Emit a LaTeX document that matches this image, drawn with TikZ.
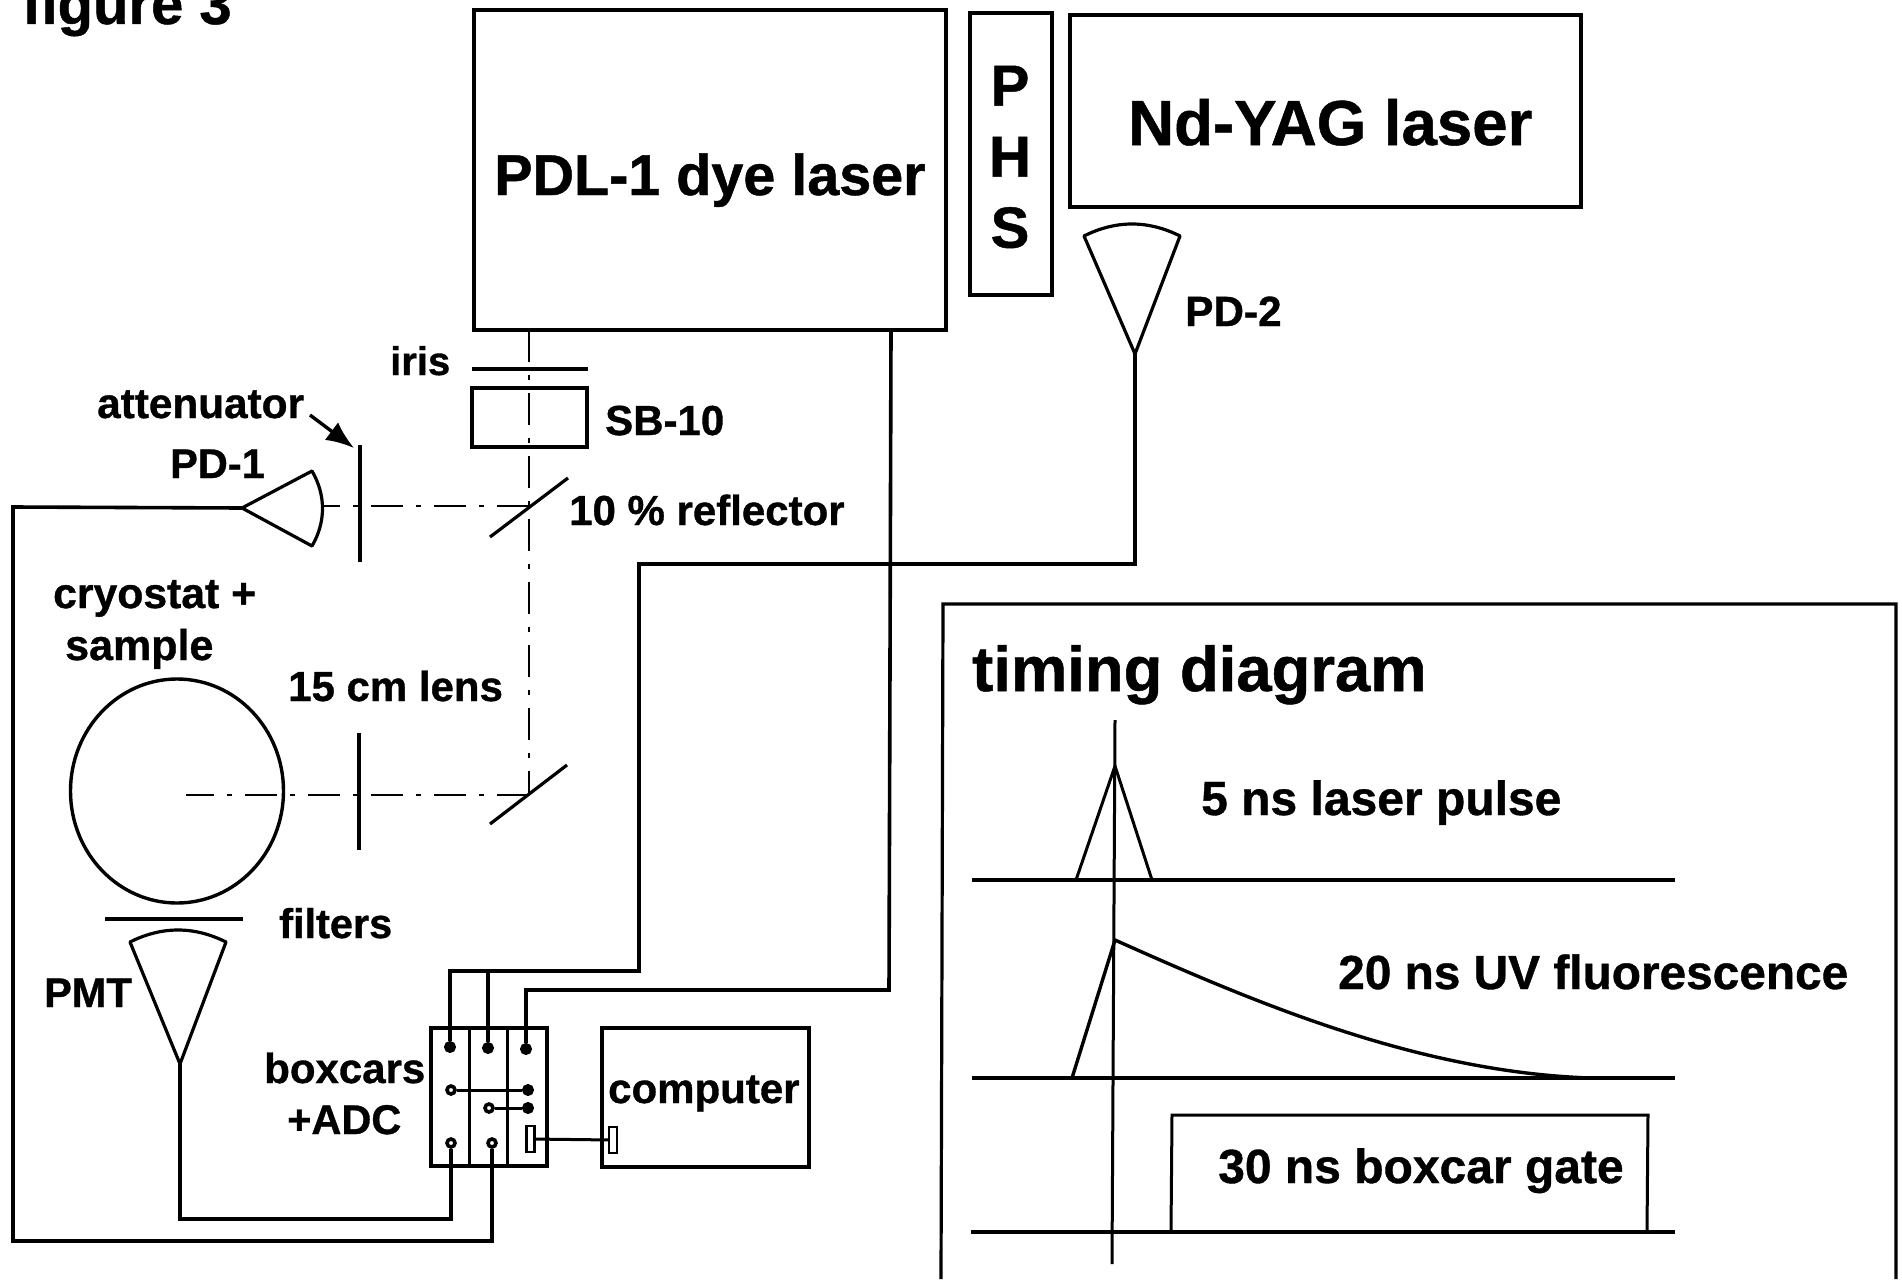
\documentclass[tikz,border=0pt]{standalone}
\usepackage{fontspec}
\setmainfont{Liberation Sans}[BoldFeatures={FakeBold=0.8}]
\usetikzlibrary{arrows.meta,shapes.geometric}
\tikzset{
  lab/.style={anchor=base west,inner sep=0pt,font=\fontsize{#1}{#1}\selectfont\bfseries},
  boxnode/.style={draw,line width=3.2pt,rectangle,inner sep=0pt},
  wire/.style={line width=3.6pt,line join=miter},
  thin wire/.style={line width=3pt},
  optic/.style={line width=3.2pt},
  beam/.style={line width=2pt,dash pattern=on 32pt off 13pt on 5pt off 13pt},
  termfilled/.style={circle,draw,fill=black,line width=2pt,minimum size=10pt,inner sep=0pt},
  termopen/.style={circle,draw,fill=white,line width=3.6pt,minimum size=8pt,inner sep=0pt},
  plug/.style={draw,line width=2.4pt,rectangle,inner sep=0pt,minimum width=8pt,minimum height=26pt},
}
\begin{document}
\begin{tikzpicture}[x=1pt,y=-1pt]
\useasboundingbox (0,0) rectangle (1902,1279);
\clip (0,0) rectangle (1902,1279);

% boxes
\node[boxnode,minimum width=472pt,minimum height=320pt] (pdl) at (710,170) {};
\node[boxnode,minimum width=82pt,minimum height=282pt] (phs) at (1011,154) {};
\node[boxnode,minimum width=511pt,minimum height=192pt] (yag) at (1325.5,111) {};
\node[boxnode,minimum width=115pt,minimum height=59pt] (sb) at (529.5,417.5) {};
\node[boxnode,minimum width=207pt,minimum height=139pt] (comp) at (705.5,1097.5) {};
\node[boxnode,minimum width=116pt,minimum height=138pt] (bx) at (489,1097) {};
\draw[line width=3pt] (469,1028) -- (469,1166);
\draw[line width=3pt] (507,1028) -- (507,1166);

% labels
\node[lab=58] (tfig) at (22,24) {figure 3};
\node[lab=57.5] (tpdl) at (494,195) {PDL-1 dye laser};
\node[lab=63.6] (tyag) at (1128,145) {Nd-YAG laser};
\node[lab=58,anchor=center,align=center,font=\fontsize{58}{71}\selectfont\bfseries] (tphs) at (1010,157) {P\\H\\S};
\node[lab=42.3] (tpd2) at (1185,326) {PD-2};
\node[lab=40] (tiris) at (390,375) {iris};
\node[lab=42] (tsb) at (605,435) {SB-10};
\node[lab=42.3] (tatt) at (97,418) {attenuator};
\node[lab=41.5] (tpd1) at (170,478) {PD-1};
\node[lab=42] (tref) at (569,525) {10 \% reflector};
\node[lab=42.7] (tcryo) at (53,608) {cryostat +};
\node[lab=43] (tsamp) at (65,660) {sample};
\node[lab=42] (tlens) at (288,701) {15 cm lens};
\node[lab=41.5] (tfilt) at (279,938) {filters};
\node[lab=41.5] (tpmt) at (44,1007) {PMT};
\node[lab=42] (tbox) at (264,1083) {boxcars};
\node[lab=41.5] (tadc) at (287,1134) {+ADC};
\node[lab=42] (tcomp) at (608,1103) {computer};
\node[lab=63.4] (ttim) at (972,691) {timing diagram};
\node[lab=48] (tpulse) at (1201,815) {5 ns laser pulse};
\node[lab=47.8] (tfluo) at (1338,989) {20 ns UV fluorescence};
\node[lab=48] (tgate) at (1218,1183) {30 ns boxcar gate};

% photodiodes, PMT
\coordinate (pd2tip) at (1135,354);
\coordinate (pd1tip) at (242,508);
\coordinate (pmttip) at (180,1064);
\draw[optic,line join=round] (pd2tip) -- (1084,236) .. controls (1116,220) and (1148,220) .. (1180,236) -- cycle;
\draw[optic,line join=round] (pd1tip) -- (312,471) .. controls (326,495) and (326,522) .. (312,546) -- cycle;
\draw[optic,line join=round] (pmttip) -- (130,942) .. controls (162,926) and (194,926) .. (226,942) -- cycle;

% optics
\coordinate (irisl) at (472,369);
\coordinate (irisr) at (588,369);
\draw[optic] (irisl) -- (irisr);
\coordinate (attt) at (360,445);
\coordinate (attb) at (360,562);
\draw[optic] (attt) -- (attb);
\coordinate (lenst) at (359,733);
\coordinate (lensb) at (359,850);
\draw[optic] (lenst) -- (lensb);
\coordinate (m1a) at (490,537);
\coordinate (m1b) at (568,478);
\draw[optic] (m1a) -- (m1b);
\coordinate (m2a) at (490,824);
\coordinate (m2b) at (567,765);
\draw[optic] (m2a) -- (m2b);
\draw[line width=3.2pt] (105,919) coordinate (fl) -- (243,919) coordinate (fr);
\node[draw,ellipse,line width=3.4pt,minimum width=213pt,minimum height=224pt,inner sep=0pt] (cryo) at (177,791) {};

% beams
\coordinate (b0) at (529,330);
\coordinate (b1) at (529,506);
\coordinate (b2) at (529,795);
\coordinate (b3) at (186,795);
\coordinate (b4) at (323,506);
\draw[beam] (b0) -- (b1) -- (b2);
\draw[beam] (b2) -- (b3);
\draw[beam] (b1) -- (b4);

% attenuator arrow
\coordinate (arra) at (310,415);
\coordinate (arrb) at (354,448);
\draw[line width=3.4pt,-{Latex[length=28pt,width=22pt]}] (arra) -- (arrb);

% boxcar terminals
\node[termfilled] (t1) at (450,1047) {};
\node[termfilled] (t2) at (488,1048) {};
\node[termfilled] (t3) at (526,1049) {};
\node[termopen] (m1) at (451,1090) {};
\node[termfilled] (m2) at (528,1090) {};
\node[termopen] (m3) at (489,1108) {};
\node[termfilled] (m4) at (528,1108) {};
\node[termopen] (b1t) at (451,1143) {};
\node[termopen] (b2t) at (492,1143) {};
\node[plug] (p1) at (530.5,1139) {};
\node[plug] (p2) at (613,1140) {};
\draw[thin wire] (m1) -- (m2);
\draw[thin wire] (m3) -- (m4);
\draw[thin wire] (p1) -- (p2);

% wiring
\coordinate (w1) at (1135,564);
\coordinate (w2) at (639,564);
\coordinate (w3) at (639,971);
\coordinate (w4) at (450,971);
\coordinate (w5) at (488,971);
\coordinate (y1) at (891,330);
\coordinate (y2) at (889,990);
\coordinate (y3) at (526,990);
\coordinate (z1) at (451,1219);
\coordinate (z2) at (180,1219);
\coordinate (q1) at (492,1241);
\coordinate (q2) at (13,1241);
\coordinate (q3) at (13,507);
\draw[wire] (pd2tip) -- (w1) -- (w2) -- (w3) -- (w4) -- (t1);
\draw[wire] (w5) -- (t2);
\draw[wire] (y1) -- (y2) -- (y3) -- (t3);
\draw[wire] (b1t) -- (z1) -- (z2) -- (pmttip);
\draw[wire] (b2t) -- (q1) -- (q2) -- (q3) -- (pd1tip);

% timing frame
\coordinate (f1) at (941,1279);
\coordinate (f2) at (943,604);
\coordinate (f3) at (1896,604);
\coordinate (f4) at (1896,1279);
\draw[line width=3.2pt] (f1) -- (f2) -- (f3) -- (f4);

% timing traces
\coordinate (l1a) at (972,880);
\coordinate (l1b) at (1675,880);
\coordinate (l2a) at (972,1078);
\coordinate (l2b) at (1675,1078);
\coordinate (l3a) at (971,1232);
\coordinate (l3b) at (1675,1232);
\draw[wire] (l1a) -- (l1b);
\draw[wire] (l2a) -- (l2b);
\draw[wire] (l3a) -- (l3b);
\coordinate (va) at (1115,720);
\coordinate (vb) at (1112,1264);
\draw[line width=3pt] (va) -- (vb);
\draw[line width=3pt,line join=round] (1076,880) -- (1115,766) -- (1152,880);
\draw[line width=3.4pt,line join=round] (1072,1078) -- (1115,940)
   .. controls (1260,1005) and (1420,1072) .. (1590,1078);
\draw[line width=3pt] (1171,1232) -- (1172,1115) -- (1648,1115) -- (1647,1232);
\end{tikzpicture}
\end{document}
